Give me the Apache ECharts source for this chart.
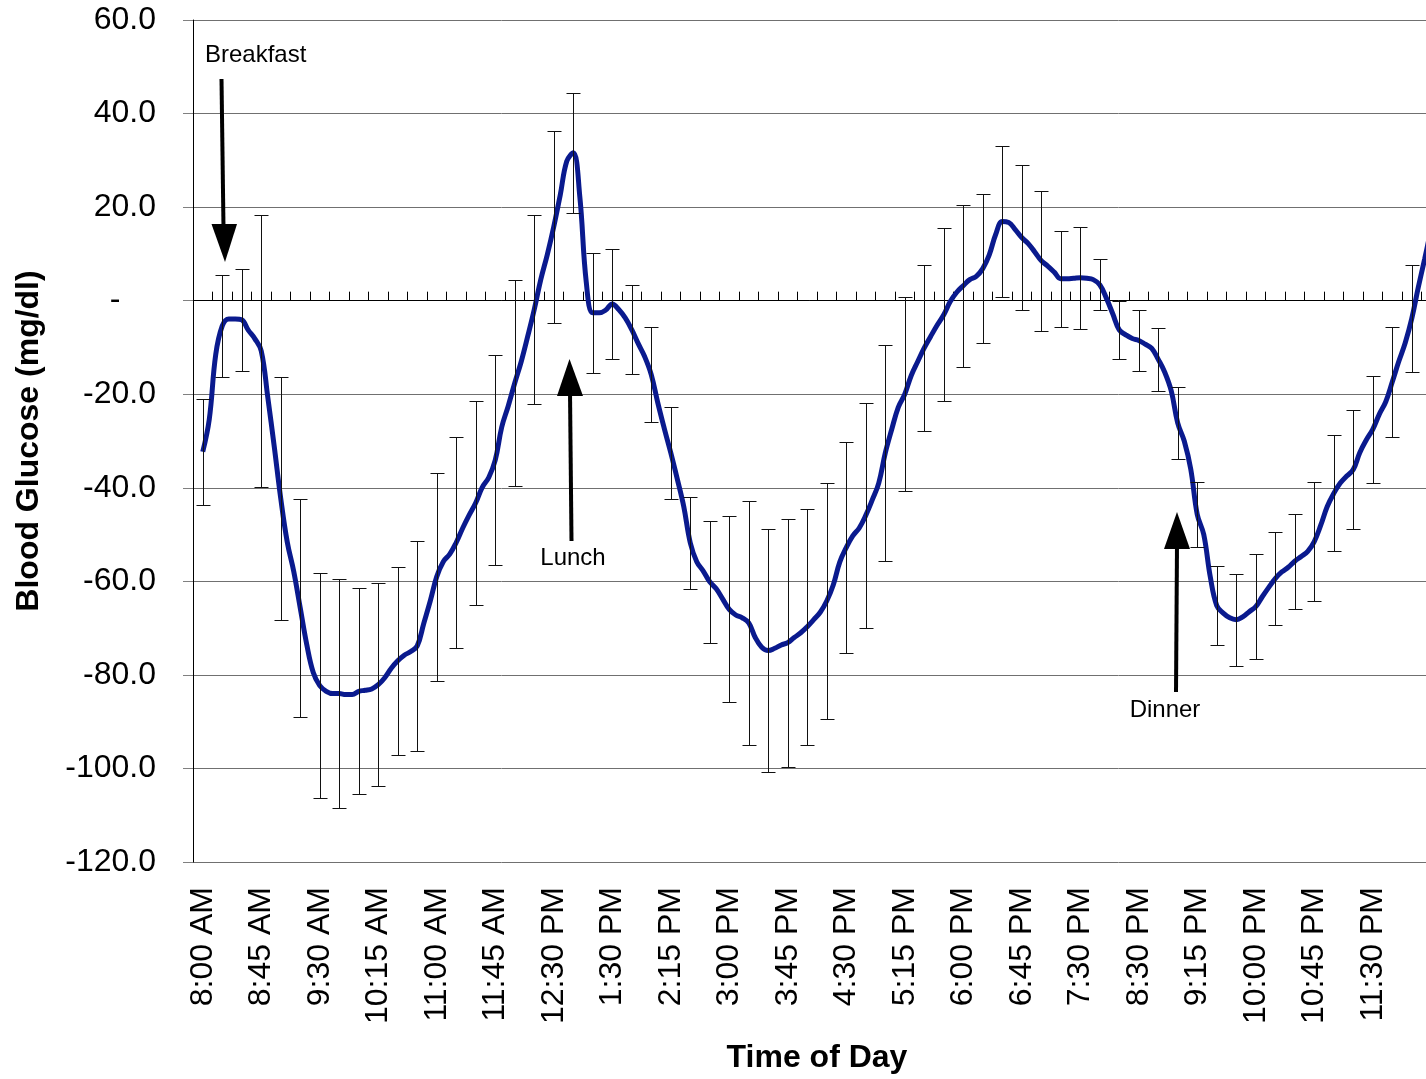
<!DOCTYPE html>
<html>
<head>
<meta charset="utf-8">
<script src="https://cdn.jsdelivr.net/npm/echarts@6/dist/echarts.min.js"></script>
<style>html,body{margin:0;padding:0;background:#fff}#c{width:1426px;height:1079px}</style>
</head>
<body>
<div id="c"></div>
<script>
// ---------- data ----------
const categories = [
  '8:00 AM','8:15 AM','8:30 AM','8:45 AM','9:00 AM','9:15 AM','9:30 AM','9:45 AM',
  '10:00 AM','10:15 AM','10:30 AM','10:45 AM','11:00 AM','11:15 AM','11:30 AM','11:45 AM',
  '12:00 PM','12:15 PM','12:30 PM','12:45 PM','1:00 PM','1:30 PM','1:45 PM','2:00 PM',
  '2:15 PM','2:30 PM','2:45 PM','3:00 PM','3:15 PM','3:30 PM','3:45 PM','4:00 PM',
  '4:15 PM','4:30 PM','4:45 PM','5:00 PM','5:15 PM','5:30 PM','5:45 PM','6:00 PM',
  '6:15 PM','6:30 PM','6:45 PM','7:00 PM','7:15 PM','7:30 PM','7:45 PM','8:00 PM',
  '8:30 PM','8:45 PM','9:00 PM','9:15 PM','9:30 PM','9:45 PM','10:00 PM','10:15 PM',
  '10:30 PM','10:45 PM','11:00 PM','11:15 PM','11:30 PM','11:45 PM','12:00 AM','12:15 AM'
];
// mean blood glucose change at each time (mg/dl)
const meanValues = [
  -32.3, -5.4, -4.1, -10.75, -42.3, -65.7, -82.3, -84.0,
  -83.5, -82.1, -77.0, -73.8, -59.0, -51.7, -43.2, -34.1,
  -17.6, -1.9, 15.8, 31.6, -2.6, -0.7, -6.2, -15.8,
  -32.5, -51.75, -60.1, -66.0, -68.9, -74.8, -73.1, -69.7,
  -64.2, -52.8, -45.9, -32.6, -20.0, -10.1, -3.0, 3.2,
  6.85, 16.9, 13.5, 8.55, 4.7, 4.9, 3.4, -6.25,
  -8.5, -12.55, -26.2, -45.7, -65.2, -68.2, -65.4, -59.4,
  -55.7, -51.5, -41.2, -36.1, -27.5, -17.4, -3.85, 15.5
];
// error bar half-length (mg/dl); last one lies outside the visible picture
const errValues = [
  11.3, 10.9, 10.9, 29.0, 26.0, 23.3, 24.0, 24.5,
  22.0, 21.7, 20.1, 22.4, 22.2, 22.6, 21.8, 22.5,
  22.0, 20.2, 20.5, 12.8, 12.8, 11.7, 9.5, 10.2,
  9.8, 9.8, 13.0, 19.9, 26.0, 26.0, 26.5, 25.2,
  25.2, 22.5, 24.1, 23.1, 20.7, 17.8, 18.5, 17.3,
  15.85, 16.1, 15.6, 15.0, 10.3, 10.9, 5.5, 6.2,
  6.6, 6.8, 7.7, 7.0, 8.5, 9.8, 11.3, 10.0,
  10.2, 12.8, 12.4, 12.8, 11.5, 11.8, 11.5, null
];
// intermediate curve readings (5-minute steps) between consecutive times
const curveA = [
  -25.4, -3.9, -6.3, -20.6, -51.6, -73.5, -83.5, -84.2, -83.3, -80.6,
  -75.8, -69.0, -55.8, -48.6, -39.9, -27.0, -13.0, 4.5, 22.6, 22.4,
  -2.6, -1.9, -9.2, -21.8, -38.1, -55.8, -61.6, -67.2, -72.0, -74.3,
  -72.0, -68.2, -60.8, -50.3, -42.6, -27.5, -16.0, -7.6, -0.2, 4.5,
  9.8, 16.7, 12.2, 7.4, 4.7, 4.8, 0.6, -7.3, -9.3, -15.3,
  -30.0, -50.0, -66.8, -67.6, -63.3, -58.0, -54.7, -48.0, -39.0, -32.5,
  -24.3, -13.0, 2.8
];
const curveB = [
  -11.5, -3.9, -8.1, -31.2, -57.9, -79.5, -84.0, -84.2, -83.0, -78.6,
  -75.0, -64.2, -54.2, -45.8, -37.8, -22.5, -7.6, 9.8, 29.8, 4.0,
  -2.0, -3.7, -12.0, -27.3, -44.0, -57.8, -63.8, -67.8, -74.1, -73.6,
  -71.0, -66.6, -55.9, -48.6, -39.0, -22.8, -13.0, -5.2, 1.8, 5.2,
  14.2, 15.2, 10.4, 6.1, 4.8, 4.5, -2.8, -8.1, -10.2, -19.3,
  -36.0, -59.0, -67.8, -66.5, -61.3, -57.0, -53.6, -44.0, -37.5, -29.8,
  -21.6, -9.0, 9.0
];
const yTicks = { min: -120, max: 60, interval: 20 };

// ---------- build ----------
const FONT = "'Liberation Sans', Arial, Helvetica, sans-serif";
const fineCats = [];
const fineLine = [];
categories.forEach((c) => {
  fineCats.push(c + ' a', c, c + ' b');
  fineLine.push(null, null, null);
});
categories.forEach((c, i) => {
  fineLine[3 * i + 1] = meanValues[i];
  if (i < curveA.length) {
    fineLine[3 * i + 2] = curveA[i];
    fineLine[3 * i + 3] = curveB[i];
  }
});
const errData = [];
categories.forEach((c, i) => {
  if (errValues[i] != null) errData.push([i, meanValues[i] - errValues[i], meanValues[i] + errValues[i]]);
});

const chart = echarts.init(document.getElementById('c'), null, { renderer: 'canvas' });
const option = {
  animation: false,
  backgroundColor: '#ffffff',
  grid: { left: 193, top: 20, width: 1248, height: 842, outerBoundsMode: 'none', containLabel: false },
  xAxis: [
    {
      type: 'category', data: categories, position: 'bottom', boundaryGap: true,
      axisLine: { show: false, onZero: false },
      axisTick: { show: false },
      splitLine: { show: false },
      axisLabel: {
        rotate: 90, fontSize: 32, fontFamily: FONT, color: '#000', margin: 25,
        interval: (idx) => idx % 3 === 0 && idx <= 60
      },
      name: 'Time of Day', nameLocation: 'middle', nameGap: 180,
      nameTextStyle: { fontSize: 32, fontWeight: 'bold', fontFamily: FONT, color: '#000' }
    },
    {
      type: 'category', data: categories, position: 'bottom', boundaryGap: true,
      axisLine: { show: true, onZero: true, lineStyle: { color: '#000', width: 1 } },
      axisTick: { show: true, inside: true, length: 9, interval: 0, lineStyle: { color: '#000', width: 1 } },
      axisLabel: { show: false },
      splitLine: { show: false }
    },
    {
      type: 'category', data: fineCats, position: 'top', boundaryGap: true, show: false
    }
  ],
  yAxis: {
    type: 'value', min: yTicks.min, max: yTicks.max, interval: yTicks.interval,
    axisLine: { show: true, lineStyle: { color: '#000', width: 1 } },
    axisTick: { show: true, length: 10, lineStyle: { color: '#808080' } },
    splitLine: { show: true, lineStyle: { color: '#707070', width: 1 } },
    axisLabel: {
      fontSize: 32, fontFamily: FONT, color: '#000', margin: 37, padding: [4, 0, 0, 0],
      formatter: (v) => (v === 0 ? '-    ' : v.toFixed(1))
    },
    name: 'Blood Glucose (mg/dl)', nameLocation: 'middle', nameGap: 148,
    nameTextStyle: { fontSize: 32, fontWeight: 'bold', fontFamily: FONT, color: '#000' }
  },
  series: [
    {
      type: 'line', xAxisIndex: 2, data: fineLine, connectNulls: true,
      smooth: 0.4, symbol: 'none', z: 3,
      lineStyle: { color: '#0a1a8e', width: 5 }
    },
    {
      type: 'custom', xAxisIndex: 0, data: errData, z: 4,
      encode: { x: 0, y: [1, 2] },
      renderItem: (params, api) => {
        const i = api.value(0);
        const pTop = api.coord([i, api.value(2)]);
        const pBot = api.coord([i, api.value(1)]);
        const x = Math.round(pTop[0]) + 0.5;
        const yt = Math.round(pTop[1]) + 0.5;
        const yb = Math.round(pBot[1]) + 0.5;
        const hw = 7;
        const st = { stroke: '#111', lineWidth: 1 };
        return {
          type: 'group',
          children: [
            { type: 'line', shape: { x1: x, y1: yt, x2: x, y2: yb }, style: st },
            { type: 'line', shape: { x1: x - hw, y1: yt, x2: x + hw, y2: yt }, style: st },
            { type: 'line', shape: { x1: x - hw, y1: yb, x2: x + hw, y2: yb }, style: st }
          ]
        };
      }
    }
  ],
  graphic: [
    { type: 'text', z: 10, style: { text: 'Breakfast', x: 205, y: 55, fontSize: 24, fontFamily: FONT, fill: '#000', align: 'left', verticalAlign: 'middle' } },
    { type: 'line', z: 10, shape: { x1: 221.5, y1: 79, x2: 223.5, y2: 228 }, style: { stroke: '#000', lineWidth: 4 } },
    { type: 'polygon', z: 10, shape: { points: [[211.5, 224], [237, 224], [225, 262]] }, style: { fill: '#000' } },

    { type: 'text', z: 10, style: { text: 'Lunch', x: 573, y: 558, fontSize: 24, fontFamily: FONT, fill: '#000', align: 'center', verticalAlign: 'middle' } },
    { type: 'line', z: 10, shape: { x1: 570, y1: 392, x2: 571.5, y2: 541 }, style: { stroke: '#000', lineWidth: 4 } },
    { type: 'polygon', z: 10, shape: { points: [[557, 396], [583, 396], [569.5, 359]] }, style: { fill: '#000' } },

    { type: 'text', z: 10, style: { text: 'Dinner', x: 1165, y: 710, fontSize: 24, fontFamily: FONT, fill: '#000', align: 'center', verticalAlign: 'middle' } },
    { type: 'line', z: 10, shape: { x1: 1177, y1: 545, x2: 1176, y2: 692 }, style: { stroke: '#000', lineWidth: 4 } },
    { type: 'polygon', z: 10, shape: { points: [[1164, 549], [1190, 549], [1177, 512]] }, style: { fill: '#000' } }
  ]
};
chart.setOption(option);
</script>
</body>
</html>
